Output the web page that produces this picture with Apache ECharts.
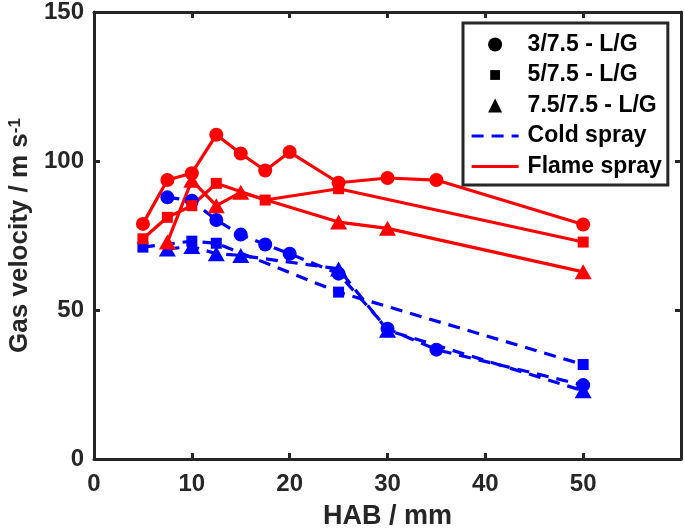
<!DOCTYPE html>
<html>
<head>
<meta charset="utf-8">
<script src="https://cdn.jsdelivr.net/npm/echarts@6/dist/echarts.min.js"></script>
<style>
html,body{margin:0;padding:0;background:#fff;}
#chart{width:685px;height:531px;}
</style>
</head>
<body>
<div id="chart"></div>
<script>
// ---- Data (HAB in mm, gas velocity in m/s) ----
const coldCircleX = [7.5, 10, 12.5, 15, 17.5, 20, 25, 30, 35, 50];
const coldCircleY = [87.8, 86.7, 80.2, 75.3, 72.0, 68.9, 62.2, 43.7, 36.7, 24.8];
const coldSquareX = [5, 10, 12.5, 25, 50];
const coldSquareY = [71.1, 73.1, 72.4, 56.0, 31.7];
const coldTriX = [7.5, 10, 12.5, 15, 25, 30, 50];
const coldTriY = [70.5, 71.3, 68.9, 68.3, 63.8, 43.2, 22.9];

const flameCircleX = [5, 7.5, 10, 12.5, 15, 17.5, 20, 25, 30, 35, 50];
const flameCircleY = [78.9, 93.6, 95.9, 108.8, 102.5, 96.8, 103.0, 92.7, 94.3, 93.6, 78.7];
const flameSquareX = [5, 7.5, 10, 12.5, 17.5, 25, 50];
const flameSquareY = [73.9, 81.1, 85.0, 92.5, 86.9, 90.7, 72.8];
const flameTriX = [7.5, 10, 12.5, 15, 25, 30, 50];
const flameTriY = [72.8, 93.5, 85.0, 89.5, 79.5, 77.4, 62.8];

const legendNames = ['3/7.5 - L/G', '5/7.5 - L/G', '7.5/7.5 - L/G', 'Cold spray', 'Flame spray'];
const xTicks = [0, 10, 20, 30, 40, 50];
const yTicks = [0, 50, 100, 150];

// ---- Styles ----
const FONT = "'Liberation Sans', Arial, Helvetica, sans-serif";
const AX = '#262626';
const BLUE = '#0000ff';
const RED = '#ff0000';
const DASH = [12, 8];
const LEGEND_SQUARE = 'path://M0,0M20,20M3,3L17,3L17,17L3,17Z';

function pairs(xs, ys) { return xs.map((x, i) => [x, ys[i]]); }

function dataSeries(name, xs, ys, color, symbol, size, dashed) {
  return {
    name: name, type: 'line', data: pairs(xs, ys),
    symbol: symbol, symbolSize: size, showSymbol: true,
    itemStyle: { color: color, borderWidth: 0 },
    lineStyle: { color: color, width: 3.2, type: dashed ? DASH : 'solid', cap: 'butt' },
    emphasis: { disabled: true }, animation: false, z: 2
  };
}
function legendDummy(name, symbol, color, dashed) {
  return {
    name: name, type: 'line', data: [], symbol: symbol,
    itemStyle: { color: color },
    lineStyle: { color: color, width: 3.2, type: dashed ? DASH : 'solid' },
    animation: false
  };
}

const series = [
  dataSeries('c1', coldCircleX, coldCircleY, BLUE, 'circle', 14, true),
  dataSeries('c2', coldSquareX, coldSquareY, BLUE, 'rect', 11, true),
  dataSeries('c3', coldTriX, coldTriY, BLUE, 'triangle', [17, 15], true),
  dataSeries('f1', flameCircleX, flameCircleY, RED, 'circle', 14, false),
  dataSeries('f2', flameSquareX, flameSquareY, RED, 'rect', 11, false),
  dataSeries('f3', flameTriX, flameTriY, RED, 'triangle', [17, 15], false),
  legendDummy(legendNames[0], 'circle', '#000', false),
  legendDummy(legendNames[1], LEGEND_SQUARE, '#000', false),
  legendDummy(legendNames[2], 'triangle', '#000', false),
  legendDummy(legendNames[3], 'none', BLUE, true),
  legendDummy(legendNames[4], 'none', RED, false)
];

const markerLegend = (name) => ({
  name: name,
  itemStyle: { color: '#000', opacity: 1, borderWidth: 0 },
  lineStyle: { opacity: 0, width: 0 }
});
const lineLegend = (name, color, dashed) => ({
  name: name,
  itemStyle: { opacity: 0, borderWidth: 0 },
  lineStyle: { color: color, opacity: 1, width: 3.2, type: dashed ? DASH : 'solid' }
});

const tickSet = (arr) => (v) => arr.indexOf(v) >= 0 ? String(v) : '';

const frameAxis = {
  axisLine: { show: true, onZero: false, lineStyle: { color: AX, width: 3 } },
  axisTick: { show: true, inside: true, length: 6, lineStyle: { color: AX, width: 3 } },
  splitLine: { show: false }
};

const chart = echarts.init(document.getElementById('chart'), null, { renderer: 'canvas' });
chart.setOption({
  backgroundColor: '#fff',
  animation: false,
  grid: { left: 94, right: 4, top: 12, bottom: 72, containLabel: false, outerBoundsMode: 'none' },
  legend: {
    orient: 'vertical', left: 463, top: 23,
    padding: [10, 6, 7, 7],
    itemWidth: 47, itemHeight: 17.5, itemGap: 7.5,
    borderColor: AX, borderWidth: 3, backgroundColor: '#fff',
    selectedMode: false,
    textStyle: { fontFamily: FONT, fontWeight: 'bold', fontSize: 23, lineHeight: 21, color: '#000', padding: [0, 0, 0, 4] },
    data: [
      markerLegend(legendNames[0]),
      markerLegend(legendNames[1]),
      markerLegend(legendNames[2]),
      lineLegend(legendNames[3], BLUE, true),
      lineLegend(legendNames[4], RED, false)
    ],
    z: 10
  },
  xAxis: [Object.assign({
    type: 'value', min: 0, max: 60, interval: 10, position: 'bottom',
    name: 'HAB / mm', nameLocation: 'middle', nameGap: 44,
    nameTextStyle: { fontFamily: FONT, fontWeight: 'bold', fontSize: 27, lineHeight: 27, color: AX },
    axisLabel: { margin: 13, fontFamily: FONT, fontWeight: 'bold', fontSize: 24, color: AX, formatter: tickSet(xTicks) }
  }, frameAxis), Object.assign({
    type: 'value', min: 0, max: 60, interval: 10, position: 'top',
    axisLabel: { show: false }
  }, frameAxis)],
  yAxis: [Object.assign({
    type: 'value', min: 0, max: 150, interval: 50, position: 'left',
    name: 'Gas velocity / m s{sup|-1}', nameLocation: 'middle', nameGap: 58,
    nameTextStyle: {
      fontFamily: FONT, fontWeight: 'bold', fontSize: 26, color: AX,
      rich: { sup: { fontFamily: FONT, fontWeight: 'bold', fontSize: 17, color: AX, verticalAlign: 'top' } }
    },
    axisLabel: { margin: 10, fontFamily: FONT, fontWeight: 'bold', fontSize: 24, color: AX, formatter: tickSet(yTicks) }
  }, frameAxis), Object.assign({
    type: 'value', min: 0, max: 150, interval: 50, position: 'right',
    axisLabel: { show: false }
  }, frameAxis)],
  series: series
});
</script>
</body>
</html>
